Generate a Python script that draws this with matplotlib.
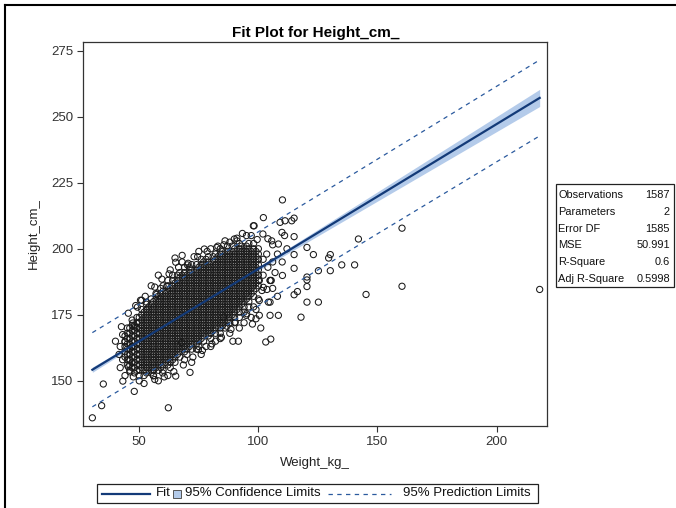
import matplotlib
matplotlib.use('Agg')
import matplotlib.pyplot as plt
import numpy as np
from matplotlib.patches import Rectangle
from matplotlib.lines import Line2D

plt.rcParams['font.family'] = ['Liberation Sans', 'DejaVu Sans']

# ---------------- data ----------------
# dense core of the cloud: weight (kg): heights (cm)
core_columns = """
44: 159 161 163 165 167
45: 156 158 160 162 164 166 168 170
46: 154 156 158 160 162 164 166 168 170
47: 155 157 159 161 163 165 167 169 171 173
48: 153 155 157 159 161 163 165 167 169 171
49: 154 156 158 160 162 164 166 168 170 172 174
50: 152 154 156 158 160 162 164 166 168 170 172 174
51: 155 157 159 161 163 165 167 169 171 173 175 177
52: 152 154 156 158 160 162 164 166 168 170 172 174 176
53: 153 155 157 159 161 163 165 167 169 171 173 175 177 179
54: 154 156 158 160 162 164 166 168 170 172 174 176 178
55: 153 155 157 159 161 163 165 167 169 171 173 175 177 179 181
56: 152 154 156 158 160 162 164 166 168 170 172 174 176 178 180
57: 155 157 159 161 163 165 167 169 171 173 175 177 179 181 183
58: 154 156 158 160 162 164 166 168 170 172 174 176 178 180 182
59: 155 157 159 161 163 165 167 169 171 173 175 177 179 181 183 185
60: 154 156 158 160 162 164 166 168 170 172 174 176 178 180 182 184 186
61: 157 159 161 163 165 167 169 171 173 175 177 179 181 183
62: 156 158 160 162 164 166 168 170 172 174 176 178 180 182 184 186 188
63: 155 157 159 161 163 165 167 169 171 173 175 177 179 181 183 185
64: 158 160 162 164 166 168 170 172 174 176 178 180 182 184 186 188 190
65: 157 159 161 163 165 167 169 171 173 175 177 179 181 183 185 187
66: 160 162 164 166 168 170 172 174 176 178 180 182 184 186 188 190
67: 159 161 163 165 167 169 171 173 175 177 179 181 183 185 187 189 191
68: 162 164 166 168 170 172 174 176 178 180 182 184 186 188 190
69: 161 163 165 167 169 171 173 175 177 179 181 183 185 187 189 191 193
70: 160 162 164 166 168 170 172 174 176 178 180 182 184 186 188 190
71: 163 165 167 169 171 173 175 177 179 181 183 185 187 189 191 193
72: 162 164 166 168 170 172 174 176 178 180 182 184 186 188 190 192 194
73: 165 167 169 171 173 175 177 179 181 183 185 187 189 191
74: 162 164 166 168 170 172 174 176 178 180 182 184 186 188 190 192 194
75: 163 165 167 169 171 173 175 177 179 181 183 185 187 189 191 193
76: 166 168 170 172 174 176 178 180 182 184 186 188 190 192 194 196
77: 165 167 169 171 173 175 177 179 181 183 185 187 189 191 193 195
78: 168 170 172 174 176 178 180 182 184 186 188 190 192 194 196
79: 167 169 171 173 175 177 179 181 183 185 187 189 191 193 195 197
80: 166 168 170 172 174 176 178 180 182 184 186 188 190 192 194
81: 169 171 173 175 177 179 181 183 185 187 189 191 193 195 197
82: 168 170 172 174 176 178 180 182 184 186 188 190 192 194 196 198
83: 171 173 175 177 179 181 183 185 187 189 191 193 195 197
84: 168 170 172 174 176 178 180 182 184 186 188 190 192 194 196 198 200
85: 171 173 175 177 179 181 183 185 187 189 191 193 195 197 199
86: 170 172 174 176 178 180 182 184 186 188 190 192 194 196 198
87: 173 175 177 179 181 183 185 187 189 191 193 195 197 199 201
88: 172 174 176 178 180 182 184 186 188 190 192 194 196 198
89: 175 177 179 181 183 185 187 189 191 193 195 197 199 201
90: 172 174 176 178 180 182 184 186 188 190 192 194 196 198 200
91: 177 179 181 183 185 187 189 191 193 195 197 199
92: 174 176 178 180 182 184 186 188 190 192 194 196 198 200 202
93: 179 181 183 185 187 189 191 193 195 197 199 201
94: 176 178 180 182 184 186 188 190 192 194 196 198 200
95: 181 183 185 187 189 191 193 195 197 199 201
96: 178 180 182 184 186 188 190 192 194 196 198 200 202
97: 183 185 187 189 191 193 195 197 199
98: 182 184 186 188 190 192 194 196 198 200 202
99: 185 187 189 191 193 195 197 199
100: 186 188 190 192 194 196 198 200
"""

# sparse points around the cloud and outliers
edge_weight = [30.3, 34.2, 34.9, 43.1, 47.9, 62.2, 41.5, 45.4, 49.2, 53.1, 57.3, 61.5,
               47.3, 48.2, 44.0, 46.8, 46.1, 45.4, 46.1, 47.5, 40.0, 42.0, 43.0, 42.0,
               44.0, 50.0, 52.0, 55.9, 59.8, 65.3, 67.8, 71.3, 74.8, 69.0, 72.0, 76.0,
               78.0, 62.0, 58.0,
               65.3, 70.2, 77.3, 80.0, 89.9, 93.3, 97.9, 102.1, 58.0, 55.0, 63.0, 68.0,
               73.0, 75.0, 83.0, 86.0, 91.0, 95.0,
               80.0, 82.0, 84.0, 86.8, 89.3, 91.6, 88.0, 92.0, 95.1, 94.0, 97.0, 99.0,
               85.4, 90.3,
               110.1, 115.0, 114.0, 109.1, 111.2, 98.2, 97.0, 101.9, 109.9, 115.0,
               105.6, 104.0, 108.4, 120.4, 123.1, 115.0, 130.2, 129.5, 135.0, 140.4,
               142.0, 160.3, 115.0, 110.1, 125.2, 130.2, 120.4, 120.4, 120.4, 105.4,
               160.3, 145.2, 218.1, 115.0, 116.4, 120.4, 125.2, 104.9, 100.4, 117.9,
               100.4, 104.9, 108.4, 94.9, 103.6, 102.1, 100.0, 103.1, 105.2, 101.5,
               104.9, 104.2, 106.0, 103.5, 102.0, 104.0, 106.0, 108.0, 107.0, 102.0,
               110.0, 112.0, 111.0, 106.0, 108.0, 101.0, 100.4, 105.0,
               50.5, 52.5, 56.5, 59.5, 62.5, 66.5, 70.5, 74.5, 78.5, 82.5, 85.5,
               56.5, 60.5, 64.5, 68.5, 72.5, 76.5, 80.5, 84.5, 88.5,
               98.0, 99.0, 97.5, 43.0, 42.5, 48.5, 51.0, 65.0, 68.0, 88.0, 91.0, 99.5]
edge_height = [136.0, 140.6, 148.8, 149.9, 146.0, 139.8, 160.0, 175.6, 177.9, 179.8, 182.7, 185.7,
               171.9, 170.4, 164.7, 162.8, 157.8, 155.3, 153.4, 151.5, 165.0, 163.0, 158.0, 155.0,
               152.0, 150.0, 149.0, 151.9, 153.0, 151.8, 164.5, 153.2, 161.8, 158.0, 157.0, 160.0,
               163.0, 152.0, 150.0,
               194.9, 193.9, 199.9, 200.0, 203.7, 205.8, 208.7, 211.8, 190.0, 186.0, 192.0, 195.0,
               197.0, 199.0, 201.0, 203.0, 204.0, 205.0,
               163.0, 165.0, 166.0, 170.7, 165.0, 165.0, 168.0, 170.0, 175.4, 172.0, 174.0, 177.0,
               174.1, 172.2,
               218.5, 211.6, 210.6, 210.0, 210.6, 208.7, 205.0, 205.6, 206.2, 204.6,
               203.0, 203.8, 201.8, 200.5, 197.8, 197.8, 197.8, 196.5, 193.9, 193.9,
               203.7, 207.8, 192.6, 189.9, 191.7, 191.7, 189.3, 188.2, 185.7, 188.0,
               185.8, 182.7, 184.6, 182.6, 183.8, 179.8, 179.8, 179.8, 180.4, 174.1,
               174.8, 174.8, 174.8, 174.8, 184.6, 185.4, 181.0, 164.7, 165.8, 184.2,
               188.0, 179.8, 201.5, 198.0, 196.0, 193.0, 195.0, 198.0, 191.0, 190.0,
               195.0, 200.0, 205.0, 185.0, 182.0, 170.0, 188.0, 188.0,
               180.5, 182.0, 185.5, 188.5, 190.5, 193.0, 194.5, 197.0, 199.0, 200.5, 201.5,
               150.5, 151.5, 153.5, 156.0, 159.0, 161.5, 164.0, 166.5, 169.5,
               178.0, 173.5, 171.5, 167.5, 170.5, 178.5, 180.5, 196.5, 197.5, 202.5, 203.0, 203.5]

# regression summary (from the fit statistics table)
stat_labels = ["Observations", "Parameters", "Error DF", "MSE", "R-Square", "Adj R-Square"]
stat_values = ["1587", "2", "1585", "50.991", "0.6", "0.5998"]
n_obs = 1587
mse = 50.991
intercept = 137.6
slope = 0.548
x_mean = 72.0
sxx = 401000.0
t_crit = 1.9615

x_ticks = [50, 100, 150, 200]
y_ticks = [150, 175, 200, 225, 250, 275]

# ---------------- build arrays ----------------
wx, hy = [], []
for line in core_columns.strip().splitlines():
    w, hs = line.split(":")
    for h in hs.split():
        wx.append(float(w))
        hy.append(float(h))
px_all = np.array(wx + edge_weight)
py_all = np.array(hy + edge_height)

# ---------------- figure ----------------
W, H = 676, 508
fig = plt.figure(figsize=(W / 100, H / 100), dpi=100)

def fx(p):
    return p / W

def fy(p):
    return 1 - p / H

ax_l, ax_r, ax_t, ax_b = 83.3, 547.3, 41.7, 426.0
ax = fig.add_axes([fx(ax_l), fy(ax_b), (ax_r - ax_l) / W, (ax_b - ax_t) / H])

fit_col = '#133a78'
band_col = '#b4cbea'
pred_col = '#2b5a9e'

xg = np.linspace(px_all.min(), px_all.max(), 300)
yfit = intercept + slope * xg
se_mean = np.sqrt(mse * (1.0 / n_obs + (xg - x_mean) ** 2 / sxx))
se_pred = np.sqrt(mse * (1.0 + 1.0 / n_obs + (xg - x_mean) ** 2 / sxx))

ax.fill_between(xg, yfit - t_crit * se_mean, yfit + t_crit * se_mean,
                color=band_col, lw=0, zorder=1)
ax.scatter(px_all, py_all, s=20, facecolors='none', edgecolors='#1a1a1a',
           linewidths=0.75, zorder=2)
ax.plot(xg, yfit + t_crit * se_pred, color=pred_col, lw=0.9, ls=(0, (3.5, 3.5)), zorder=3)
ax.plot(xg, yfit - t_crit * se_pred, color=pred_col, lw=0.9, ls=(0, (3.5, 3.5)), zorder=3)
ax.plot(xg, yfit, color=fit_col, lw=1.6, zorder=4)

ax.set_xlim(26.5, 221.3)
ax.set_ylim(132.9, 278.4)
ax.set_xticks(x_ticks)
ax.set_yticks(y_ticks)
ax.tick_params(direction='out', length=4, width=0.8, color='#333333',
               labelsize=9.5, labelcolor='#333333', pad=3)
for s in ax.spines.values():
    s.set_color('#333333')
    s.set_linewidth(0.9)

ax.set_xlabel('Weight_kg_', fontsize=9.5, color='#222222', labelpad=7)
ax.set_ylabel('Height_cm_', fontsize=9.5, color='#222222', labelpad=8)
fig.text(fx(316), fy(33), 'Fit Plot for Height_cm_', ha='center', va='center',
         fontsize=11, fontweight='bold', color='black')

# ---------------- fit statistics table ----------------
fig.add_artist(Rectangle((fx(556), fy(287)), (674 - 556) / W, (287 - 184) / H,
                         transform=fig.transFigure, fill=False, ec='#222222', lw=0.9))
row0, drow = 195.0, 16.8
for i, (lab, val) in enumerate(zip(stat_labels, stat_values)):
    yy = fy(row0 + i * drow)
    fig.text(fx(558.5), yy, lab, ha='left', va='center', fontsize=7.9, color='#111111')
    fig.text(fx(670), yy, val, ha='right', va='center', fontsize=7.9, color='#111111')

# ---------------- legend ----------------
fig.add_artist(Rectangle((fx(97), fy(503)), (538 - 97) / W, (503 - 484) / H,
                         transform=fig.transFigure, fill=False, ec='#222222', lw=0.9))
ly = fy(493.5)
fig.add_artist(Line2D([fx(102), fx(150)], [ly, ly], transform=fig.transFigure,
                      color=fit_col, lw=1.6))
fig.text(fx(156), ly, 'Fit', ha='left', va='center', fontsize=9.5, color='#111111')
fig.add_artist(Rectangle((fx(173), fy(497.5)), 8 / W, 8 / H, transform=fig.transFigure,
                         fc=band_col, ec='#555555', lw=0.7))
fig.text(fx(185), ly, '95% Confidence Limits', ha='left', va='center', fontsize=9.5,
         color='#111111')
fig.add_artist(Line2D([fx(328), fx(391)], [ly, ly], transform=fig.transFigure,
                      color=pred_col, lw=0.9, ls=(0, (3.5, 3.5))))
fig.text(fx(403), ly, '95% Prediction Limits', ha='left', va='center', fontsize=9.5,
         color='#111111')

# ---------------- outer frame (top and left edges) ----------------
fig.add_artist(Line2D([fx(5), fx(676)], [fy(5), fy(5)], transform=fig.transFigure,
                      color='black', lw=1.5))
fig.add_artist(Line2D([fx(5), fx(5)], [fy(5), fy(508)], transform=fig.transFigure,
                      color='black', lw=1.5))

fig.savefig('out.png', dpi=100)
